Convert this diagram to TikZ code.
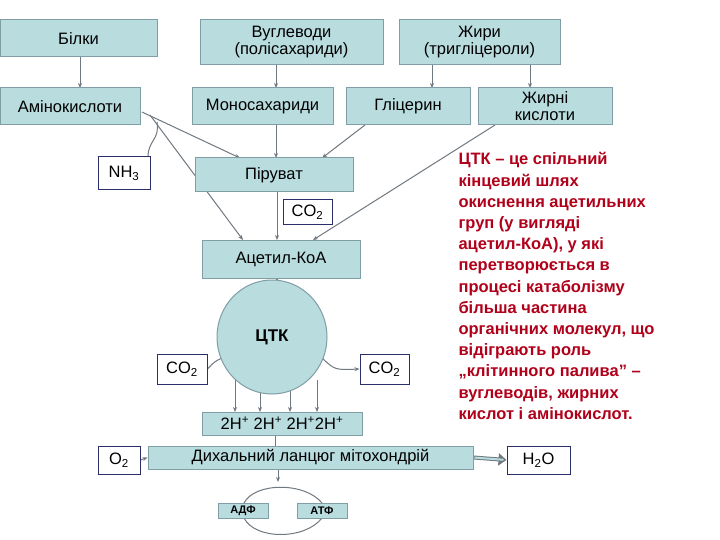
\documentclass[tikz,border=0pt]{standalone}
\usepackage{fontspec}
\setmainfont{Liberation Sans}
\usetikzlibrary{arrows.meta,shapes.geometric,backgrounds}
\definecolor{bfill}{HTML}{B9DCDF}
\definecolor{bdraw}{HTML}{7F9EA6}
\definecolor{wdraw}{HTML}{2A2E6A}
\definecolor{arr}{HTML}{707880}
\definecolor{redt}{HTML}{B0001A}
\begin{document}
\begin{tikzpicture}[x=1pt,y=-1pt,
 bx/.style={draw=bdraw,fill=bfill,line width=1pt,inner sep=0pt,font=\fontsize{16.5}{17}\selectfont,align=center},
 wb/.style={draw=wdraw,fill=white,line width=1pt,inner sep=0pt,font=\fontsize{16.5}{17}\selectfont},
 ar/.style={draw=arr,line width=1pt,-{Stealth[length=5pt,width=4pt]}},
 ln/.style={draw=arr,line width=1pt}]
\useasboundingbox (0,0) rectangle (720,540);
\def\B#1#2#3#4#5#6{\node[#6,minimum width=#3-#1,minimum height=#4-#2] (#5) at ({(#1+#3)/2},{(#2+#4)/2})}
\B{0}{20}{157}{57}{bil}{bx}{Білки};
\B{200}{20}{383}{65}{vug}{bx}{Вуглеводи\\(полісахариди)};
\B{399}{20}{560}{65}{zhy}{bx}{Жири\\(тригліцероли)};
\B{0}{88}{140}{125}{ami}{bx}{Амінокислоти};
\B{192}{88}{333}{125}{mon}{bx}{Моносахариди};
\B{346}{88}{470}{125}{gli}{bx}{Гліцерин};
\B{478}{88}{612}{125}{zhk}{bx}{Жирні\\кислоти};
\B{98}{157}{150}{190}{nh}{wb}{NH\textsubscript{3}};
\B{195}{158}{353}{192}{pir}{bx}{Піруват};
\B{283}{200}{332}{225}{co}{wb}{CO\textsubscript{2}};
\B{202}{240}{360}{278}{ace}{bx}{Ацетил-КоА};
\node[draw=bdraw,fill=bfill,line width=1pt,ellipse,minimum width=110,minimum height=114,inner sep=0pt,font=\bfseries\fontsize{17}{18}\selectfont] (ctk) at (272,337) {ЦТК};
\B{157}{354}{207}{384}{col}{wb}{CO\textsubscript{2}};
\B{360}{354}{409}{384}{cor}{wb}{CO\textsubscript{2}};
\B{202}{412}{362}{435}{hh}{bx}{2H\textsuperscript{+} 2H\textsuperscript{+} 2H\textsuperscript{+}2H\textsuperscript{+}};
\B{148}{446}{473}{469}{dyh}{bx}{Дихальний ланцюг мітохондрій};
\B{98}{446}{140}{474}{ox}{wb}{O\textsubscript{2}};
\B{507}{446}{570}{474}{wat}{wb}{H\textsubscript{2}O};
\B{218}{503}{268}{518}{adf}{bx,font=\bfseries\fontsize{11}{12}\selectfont}{АДФ};
\B{297}{503}{347}{518}{atf}{bx,font=\bfseries\fontsize{11}{12}\selectfont}{АТФ};
\begin{scope}[on background layer]
\fill[white] (0,0) rectangle (720,540);
\draw[ar] (80,57) -- (80,88);
\draw[ar] (276,65) -- (276,88);
\draw[ar] (432,65) -- (432,88);
\draw[ar] (530,65) -- (530,88);
\draw[ar] (142,112) -- (240,158);
\draw[ar] (150,115) -- (243,240);
\draw[ln] (157,122) .. controls (160,140) and (148,140) .. (148,157);
\draw[ar] (276,125) -- (276,158);
\draw[ar] (365,125) -- (322,158);
\draw[ar] (277,192) -- (277,240);
\draw[ar] (495,125) -- (313,240);
\draw[ar] (277,278) -- (277,282);
\draw[ln] (222,358) .. controls (214,362) .. (col.east);
\draw[ar] (322,358) .. controls (335,370) .. (cor.west);
\foreach \x in {235,260,290,317} \draw[ar] (\x,380) -- (\x,412);
\draw[ln] (275,435) -- (275,446);
\draw[ar] (ox.east) -- (dyh.west);
\draw[draw=arr,line width=4pt,-{Triangle[length=8pt,width=12pt]}] (dyh.east) -- (wat.west);
\draw[draw=bfill,line width=2pt,shorten >=3pt,shorten <=1pt] (dyh.east) -- (wat.west);
\draw[ar] (278,469) -- (278,482);
\draw[ln] (244,503) .. controls (255,482) and (305,482) .. (322,503);
\draw[ln] (244,518) .. controls (255,540) and (305,540) .. (322,518);
\end{scope}
\node[anchor=north west,align=left,text=redt,font=\bfseries\fontsize{16.5}{21.2}\selectfont] (txt) at (455,149)
{ ЦТК – це спільний\\кінцевий шлях\\окиснення ацетильних\\груп (у вигляді\\ацетил-КоА), у які\\перетворюється в\\процесі катаболізму\\більша частина\\органічних молекул, що\\відіграють роль\\„клітинного палива” –\\вуглеводів, жирних\\кислот і амінокислот.};
\end{tikzpicture}
\end{document}
